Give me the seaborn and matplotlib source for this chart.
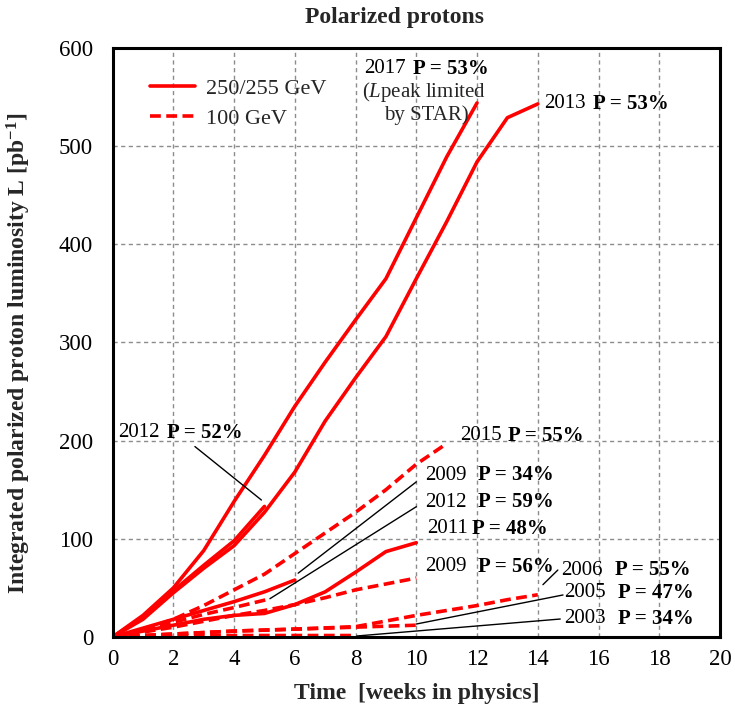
import matplotlib
matplotlib.use("Agg")
import matplotlib.pyplot as plt
import seaborn as sns
import pandas as pd
from matplotlib.lines import Line2D

# ---------------- data ----------------
weeks_2017 = [0, 1, 2, 3, 4, 5, 6, 7, 8, 9, 10, 11, 12]
lumi_2017 = [0, 22, 50, 88, 138, 185, 235, 280, 323, 365, 427, 489, 544]

weeks_2013 = [0, 1, 2, 3, 4, 5, 6, 7, 8, 9, 10, 11, 12, 13, 14]
lumi_2013 = [0, 18, 45, 70, 93, 127, 168, 220, 264, 306, 365, 423, 484, 529, 543]

weeks_2012_250 = [0, 1, 2, 3, 4, 5]
lumi_2012_250 = [0, 20, 47, 73, 98, 133]

weeks_2015 = [0, 1, 2, 3, 4, 5, 6, 7, 8, 9, 10, 11]
lumi_2015 = [0, 7, 18, 32, 48, 64, 85, 106, 127, 150, 176, 197]

weeks_2009_250 = [0, 1, 2, 3, 4, 5, 6]
lumi_2009_250 = [0, 9, 18, 27, 36, 46, 58]

weeks_2012_100 = [0, 1, 2, 3, 4, 5.2]
lumi_2012_100 = [0, 7, 15, 23, 30, 39]

weeks_2011 = [0, 1, 2, 3, 4, 5, 6, 7, 8, 9, 10]
lumi_2011 = [0, 6, 12, 18, 22, 24, 33, 46, 66, 87, 96]

weeks_2009_100 = [0, 1, 2, 3, 4, 5, 6, 7, 8, 9, 10]
lumi_2009_100 = [0, 5, 10, 16, 22, 27, 33, 40, 48, 54, 60]

weeks_2006 = [0, 2, 4, 6, 8, 10, 12, 13, 14]
lumi_2006 = [0, 3, 6, 8, 10.5, 22, 32, 38, 43]

weeks_2005 = [0, 2, 4, 6, 8, 10]
lumi_2005 = [0, 3, 6, 8, 10, 12]

weeks_2003 = [0, 2, 4, 6, 8]
lumi_2003 = [0, 1, 1.5, 1.5, 1.5]

series = [
    ("2017", weeks_2017, lumi_2017, "250/255 GeV"),
    ("2013", weeks_2013, lumi_2013, "250/255 GeV"),
    ("2012a", weeks_2012_250, lumi_2012_250, "250/255 GeV"),
    ("2011", weeks_2011, lumi_2011, "250/255 GeV"),
    ("2009a", weeks_2009_250, lumi_2009_250, "250/255 GeV"),
    ("2015", weeks_2015, lumi_2015, "100 GeV"),
    ("2012b", weeks_2012_100, lumi_2012_100, "100 GeV"),
    ("2009b", weeks_2009_100, lumi_2009_100, "100 GeV"),
    ("2006", weeks_2006, lumi_2006, "100 GeV"),
    ("2005", weeks_2005, lumi_2005, "100 GeV"),
    ("2003", weeks_2003, lumi_2003, "100 GeV"),
]

legend_labels = ["250/255 GeV", "100 GeV"]

# ---------------- style ----------------
sns.set_theme(style="white")
plt.rcParams["font.family"] = ["Liberation Serif", "DejaVu Serif"]
plt.rcParams["mathtext.fontset"] = "custom"
plt.rcParams["mathtext.rm"] = "Liberation Serif"
plt.rcParams["mathtext.it"] = "Liberation Serif:italic"
plt.rcParams["mathtext.bf"] = "Liberation Serif:bold"

RED = "#ff0000"
LW = 2.6
DASH = (0, (3.0, 1.5))
FS = 15

fig = plt.figure(figsize=(7.35, 7.17), dpi=100)
ax = fig.add_axes([0.1532, 0.1116, 0.8264, 0.8215])

for name, w, l, energy in series:
    df = pd.DataFrame({"week": w, "lumi": l})
    ls = "-" if energy == "250/255 GeV" else DASH
    sns.lineplot(data=df, x="week", y="lumi", ax=ax, color=RED, linewidth=LW,
                 linestyle=ls, estimator=None, sort=False, legend=False)

ax.set_xlim(0, 20)
ax.set_ylim(0, 600)
ax.set_xticks(range(0, 21, 2))
ax.set_yticks(range(0, 601, 100))
ax.set_axisbelow(True)
ax.grid(True, color="#8c8c8c", linestyle=(0, (3, 2.5)), linewidth=1.0)
for s in ax.spines.values():
    s.set_color("black")
    s.set_linewidth(2.2)
ax.tick_params(axis="both", direction="in", length=6, width=1.5,
               labelsize=16.5, colors="black")
ax.tick_params(axis="y", pad=14)
ax.tick_params(axis="x", pad=9)

ax.set_xlabel("Time  [weeks in physics]", fontsize=17, fontweight="bold")
ax.set_ylabel(r"Integrated polarized proton luminosity L [pb$^{\mathbf{-1}}$]",
              fontsize=17, fontweight="bold")
ax.xaxis.set_label_coords(0.5, -0.078)
ax.yaxis.set_label_coords(-0.131, 0.482)

fig.text(0.537, 0.975, "Polarized protons", fontsize=17, fontweight="bold",
         ha="center", va="center")

# legend
handles = [Line2D([], [], color=RED, linewidth=LW, linestyle="-"),
           Line2D([], [], color=RED, linewidth=LW, linestyle=DASH)]
ax.legend(handles, legend_labels, loc="upper left", bbox_to_anchor=(0.062, 0.948),
          frameon=False, fontsize=16, handlelength=2.0, handletextpad=0.5,
          labelspacing=0.4, borderpad=0, borderaxespad=0)


def mixed(x, y, year, bold, gap=4.0):
    t = ax.text(x, y, year, fontsize=FS, ha="left", va="center", color="black")
    ax.annotate(bold, xy=(1, 0.5), xycoords=t, xytext=(gap, 0),
                textcoords="offset points", fontsize=FS, fontweight="bold",
                ha="left", va="center", color="black")
    return t


# labels
mixed(8.28, 579, "2017", "P = 53%", gap=5)
ax.text(10.27, 555, r"($\it{L}$peak limited", fontsize=FS, ha="center", va="center")
ax.text(10.33, 532, "by STAR)", fontsize=FS, ha="center", va="center")
mixed(14.22, 543, "2013", "P = 53%", gap=5)
mixed(0.18, 208, "2012", "P = 52%", gap=5)
mixed(11.43, 205, "2015", "P = 55%", gap=5)
mixed(10.28, 165, "2009", "P = 34%", gap=8.6)
mixed(10.28, 137.5, "2012", "P = 59%", gap=8.6)
mixed(10.34, 110, "2011", "P = 48%", gap=3.6)
mixed(10.28, 71.5, "2009", "P = 56%", gap=8.6)
mixed(14.78, 68, "2006", "P = 55%", gap=8.6)
mixed(14.88, 45, "2005", "P = 47%", gap=8.6)
mixed(14.88, 18.5, "2003", "P = 34%", gap=8.6)

# pointer lines
pointers = [
    ((2.71, 194), (4.90, 139.5)),
    ((6.11, 65), (10.0, 158)),
    ((5.18, 39), (10.0, 132.7)),
    ((14.17, 53.3), (14.66, 68.2)),
    ((10.0, 13.2), (14.83, 42.8)),
    ((8.04, 1.0), (14.74, 18.3)),
]
for (x0, y0), (x1, y1) in pointers:
    ax.plot([x0, x1], [y0, y1], color="black", linewidth=1.0)

fig.savefig("out.png", dpi=100)
